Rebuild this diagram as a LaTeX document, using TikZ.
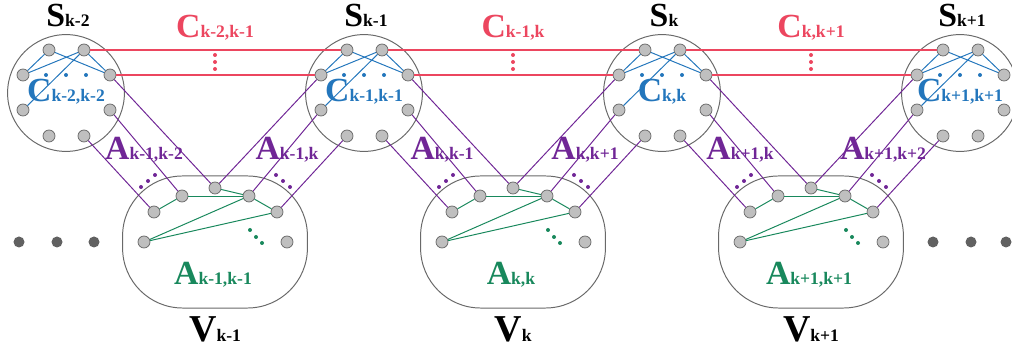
\documentclass[tikz,border=0pt]{standalone}
\usepackage{fontspec}
\setmainfont{Liberation Serif}
\usepackage{tikz}
\usetikzlibrary{positioning,calc}
\definecolor{cblue}{RGB}{35,118,188}
\definecolor{cred}{RGB}{236,70,95}
\definecolor{cpurple}{RGB}{112,38,150}
\definecolor{cgreen}{RGB}{24,136,92}
\definecolor{cline}{RGB}{105,105,105}
\newcommand{\lbl}[3][24]{{\bfseries\fontsize{#1}{#1}\selectfont #2\fontsize{12.5}{14}\selectfont #3}}

\begin{document}
\begin{tikzpicture}[x=0.025cm, y=-0.025cm,
  sset/.style={circle, draw=cline, line width=0.7pt, minimum size=2.92cm},
  vset/.style={draw=cline, line width=0.7pt, rounded corners=1.5cm, minimum width=4.62cm, minimum height=3.3cm},
  dot/.style={circle, draw=black!60, fill=black!25, line width=0.5pt, inner sep=0pt, minimum size=0.3cm},
  edot/.style={circle, fill=black!62, inner sep=0pt, minimum size=0.275cm},
  lab/.style={anchor=base, inner sep=0pt},
  cedge/.style={cblue, line width=0.7pt},
  redge/.style={cred, line width=0.8pt},
  aedge/.style={cpurple, line width=0.7pt},
  gedge/.style={cgreen, line width=0.7pt}]
  \useasboundingbox (0,0) rectangle (1012,352);
  % sets S with their constraint graphs
  \foreach \i/\x/\sub/\csub in {1/66/{k-2}/{k-2,k-2}, 2/364/{k-1}/{k-1,k-1}, 3/662/k/{k,k}, 4/960/{k+1}/{k+1,k+1}} {
    \node[sset] (S\i) at (\x,93) {};
    \foreach \n/\dx/\dy in {a/-17/-43, b/18/-43, c/-43/-18, d/44/-18, e/-43/17, f/44/17, g/-17/43, h/18/43}
      \node[dot] (s\i-\n) at ($(S\i)+(\dx,\dy)$) {};
    \draw[cedge] (s\i-c) -- (s\i-a);
    \draw[cedge] (s\i-c) -- (s\i-b);
    \draw[cedge] (s\i-a) -- (s\i-d);
    \draw[cedge] (s\i-b) -- (s\i-d);
    \draw[cedge] (s\i-b) -- (s\i-e);
    \foreach \dx in {-20,0,20}
      \fill[cblue] ($(S\i)+(\dx,-18)$) circle (0.05cm);
    \node[lab] (Sl\i) at ($(S\i)+(2,-66)$) {\lbl{S}{\sub}};
    \node[lab, text=cblue] (Cl\i) at ($(S\i)+(0,9)$) {\lbl{C}{\csub}};
  }
  % sets V with their interaction graphs
  \foreach \j/\k/\x/\sub/\asub/\lsub/\rsub/\csub in {1/2/215/{k-1}/{k-1,k-1}/{k-1,k-2}/{k-1,k}/{k-2,k-1},
      2/3/513/k/{k,k}/{k,k-1}/{k,k+1}/{k-1,k}, 3/4/811/{k+1}/{k+1,k+1}/{k+1,k}/{k+1,k+2}/{k,k+1}} {
    \node[vset] (V\j) at (\x,242) {};
    \foreach \n/\dx/\dy in {1/-61/-30, 2/-33/-46, 3/0/-54, 4/34/-46, 5/62/-30, 6/-71/0, 7/72/0}
      \node[dot] (v\j-\n) at ($(V\j)+(\dx,\dy)$) {};
    \draw[gedge] (v\j-1) -- (v\j-2);
    \draw[gedge] (v\j-2) -- (v\j-4);
    \draw[gedge] (v\j-3) -- (v\j-4);
    \draw[gedge] (v\j-4) -- (v\j-5);
    \draw[gedge] (v\j-6) -- (v\j-4);
    \draw[gedge] (v\j-6) -- (v\j-5);
    \foreach \dx/\dy in {35/-12, 41/-5, 47/1}
      \fill[cgreen] ($(V\j)+(\dx,\dy)$) circle (0.05cm);
    % links to the neighbouring S sets
    \draw[aedge] (s\j-d) -- (v\j-3);
    \draw[aedge] (s\j-f) -- (v\j-2);
    \draw[aedge] (s\j-h) -- (v\j-1);
    \draw[aedge] (s\k-c) -- (v\j-3);
    \draw[aedge] (s\k-e) -- (v\j-4);
    \draw[aedge] (s\k-g) -- (v\j-5);
    \foreach \dx/\dy in {-74/-55, -67/-61, -60/-67, 61/-67, 68/-61, 75/-55}
      \fill[cpurple] ($(V\j)+(\dx,\dy)$) circle (0.05cm);
    \draw[redge] (s\j-b) -- (s\k-a);
    \draw[redge] (s\j-d) -- (s\k-c);
    \foreach \y in {55,62,69}
      \fill[cred] (\x,\y) circle (0.05cm);
    \node[lab] (Vl\j) at ($(V\j)+(0,100)$) {\lbl[27]{V}{\sub}};
    \node[lab, text=cgreen] (Al\j) at ($(V\j)+(-2,43)$) {\lbl{A}{\asub}};
    \node[lab, text=cpurple] (Ll\j) at ($(V\j)+(-71,-82)$) {\lbl{A}{\lsub}};
    \node[lab, text=cpurple] (Rl\j) at ($(V\j)+(72,-82)$) {\lbl{A}{\rsub}};
    \node[lab, text=cred] (Rc\j) at ($(V\j)+(0,-204)$) {\lbl{C}{\csub}};
  }
  % continuation dots
  \foreach \n/\x in {1/19, 2/57, 3/94, 4/933, 5/971, 6/1006}
    \node[edot] (e\n) at (\x,242) {};
\end{tikzpicture}
\end{document}
